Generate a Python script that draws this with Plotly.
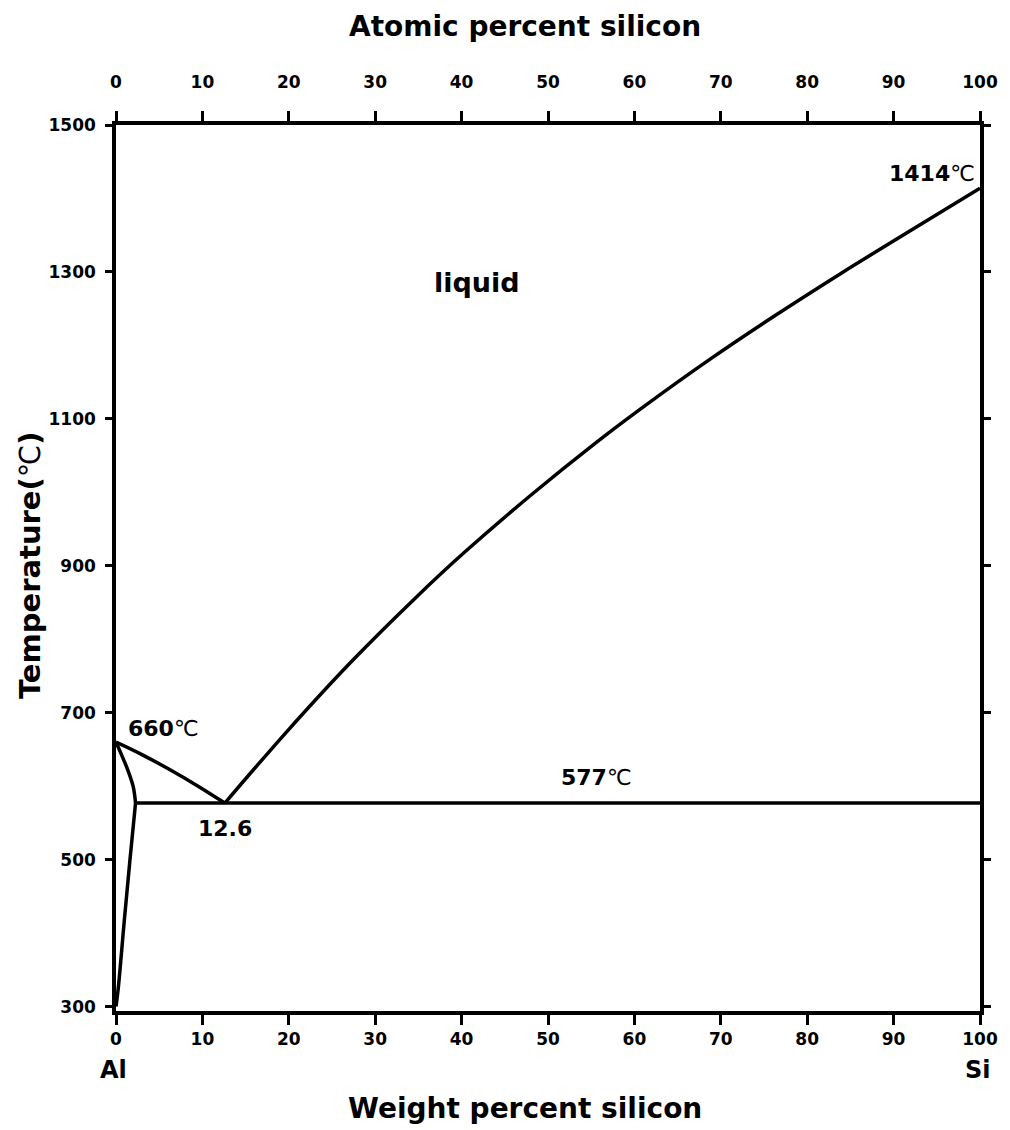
import plotly.graph_objects as go

# ---- data (weight % Si, temperature in °C) ----
liq_si_wt = [12.6, 19.6, 27.2, 34.9, 40.3, 47.9, 55.6, 61.0, 68.6, 76.2, 83.9, 91.5, 100]
liq_si_T = [577, 672, 769, 859, 918, 995, 1068, 1116, 1180, 1240, 1298, 1353, 1414]

liq_al_wt = [0, 3, 6, 9.5, 12.6]
liq_al_T = [660, 643, 624, 600, 577]

solidus_wt = [0, 1.4, 2.0, 2.26]
solidus_T = [660, 621, 599, 577]

solvus_wt = [2.26, 1.61, 0.96, 0.27, 0.0]
solvus_T = [577, 499, 417, 326, 300]

eutectic_wt = [2.26, 100]
eutectic_T = [577, 577]

wt_ticks = [0, 10, 20, 30, 40, 50, 60, 70, 80, 90, 100]
at_tick_labels = ["0", "10", "20", "30", "40", "50", "60", "70", "80", "90", "100"]
T_ticks = [300, 500, 700, 900, 1100, 1300, 1500]

FONT = "DejaVu Sans, Noto Sans CJK SC, sans-serif"
LINE = dict(color="black", width=3.5)

fig = go.Figure()
for xs, ys, shape in [
    (liq_si_wt, liq_si_T, "spline"),
    (liq_al_wt, liq_al_T, "spline"),
    (solidus_wt, solidus_T, "spline"),
    (solvus_wt, solvus_T, "spline"),
    (eutectic_wt, eutectic_T, "linear"),
]:
    fig.add_trace(go.Scatter(x=xs, y=ys, mode="lines", line=dict(LINE, shape=shape),
                             showlegend=False, hoverinfo="skip"))
# trace on the top axis so it is drawn
fig.add_trace(go.Scatter(x=[0, 100], y=[None, None], xaxis="x2", mode="lines",
                         showlegend=False, hoverinfo="skip"))

tickfont = dict(family=FONT, size=17, color="black", weight="bold")
axis_common = dict(showline=True, linecolor="black", linewidth=3.5, ticks="outside",
                   tickwidth=2.5, tickcolor="black", ticklen=10, showgrid=False,
                   zeroline=False, tickfont=tickfont)

fig.update_layout(
    width=1010, height=1130,
    margin=dict(l=116, r=23, t=125, b=119),
    paper_bgcolor="white", plot_bgcolor="white",
    xaxis=dict(axis_common, range=[0, 100], tickvals=wt_ticks,
               ticktext=[str(v) for v in wt_ticks], ticklabelstandoff=0),
    xaxis2=dict(axis_common, range=[0, 100], overlaying="x", side="top",
                tickvals=wt_ticks, ticktext=at_tick_labels, ticklabelstandoff=16),
    yaxis=dict(axis_common, range=[294, 1500], tickvals=T_ticks, mirror="ticks",
               ticklen=7, ticklabelstandoff=6),
)

def ann(text, x, y, size, xanchor="center", xref="x", yref="y"):
    fig.add_annotation(text=text, x=x, y=y, xref=xref, yref=yref, showarrow=False,
                       xanchor=xanchor, yanchor="middle",
                       font=dict(family=FONT, size=size, color="black"))

ann("<b>liquid</b>", 41.8, 1286, 27)
ann("<b>660</b>℃", 1.2, 679, 22, xanchor="left")
ann("<b>12.6</b>", 12.6, 542, 22)
ann("<b>577</b>℃", 51.3, 612, 22, xanchor="left")
ann("<b>1414</b>℃", 99.6, 1434, 22, xanchor="right")

ann("<b>Atomic percent silicon</b>", 0.473, 1.1117, 28, xref="paper", yref="paper")
ann("<b>Weight percent silicon</b>", 0.473, -0.1095, 28, xref="paper", yref="paper")
ann("<b>Al</b>", -0.003, -0.0666, 24, xref="paper", yref="paper")
ann("<b>Si</b>", 0.9977, -0.0666, 24, xref="paper", yref="paper")
fig.add_annotation(text="<b>Temperature(</b>℃<b>)</b>", x=-0.0987, y=0.503, xref="paper", yref="paper",
                   showarrow=False, textangle=-90, xanchor="center", yanchor="middle",
                   font=dict(family=FONT, size=29, color="black"))

fig.write_html("out.html")
